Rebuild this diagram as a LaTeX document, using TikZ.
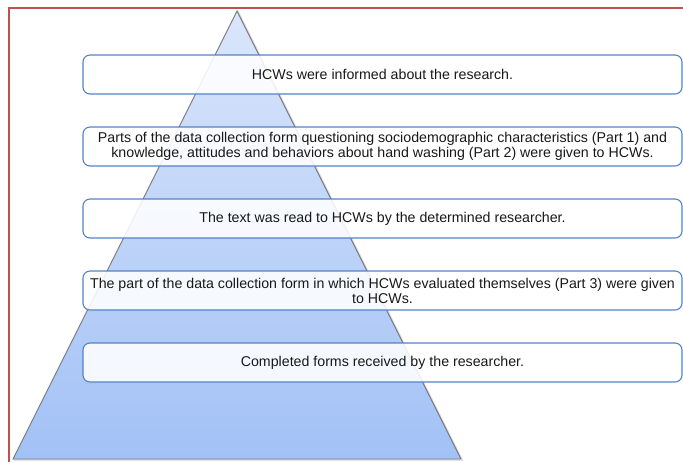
\documentclass[tikz,border=0pt]{standalone}
\usepackage{fontspec}
\setmainfont{Liberation Sans}
\definecolor{frameRed}{RGB}{192,80,77}
\definecolor{stepBlue}{RGB}{84,130,200}
\definecolor{pyrTop}{RGB}{218,230,251}
\definecolor{pyrBottom}{RGB}{162,193,246}
\definecolor{pyrEdge}{RGB}{120,120,125}
\begin{document}
\begin{tikzpicture}[x=1pt,y=-1pt,
  stepbox/.style={draw=stepBlue, line width=1.1pt, rounded corners=7pt,
    fill=white, fill opacity=0.88, text opacity=1,
    minimum width=599pt, minimum height=39pt, inner sep=0pt,
    align=center, font=\fontsize{14.2}{15}\selectfont, text=black!90},
  frameline/.style={draw=frameRed, line width=1.5pt}]
  \useasboundingbox (0,0) rectangle (683,461);
  % outer frame (only top and left edges fall inside the page)
  \draw[frameline] (9,470) -- (9,8) -- (690,8);
  % pyramid
  \coordinate (apex) at (237,11);
  \coordinate (bl) at (13,459);
  \coordinate (br) at (461,459);
  \draw[pyrEdge!60, line width=2pt, opacity=0.35] ([shift={(1.2,1.2)}]apex) -- ([shift={(1.2,1.2)}]br) -- ([shift={(1.2,1.2)}]bl) -- cycle;
  \shade[top color=pyrTop, bottom color=pyrBottom] (apex) -- (br) -- (bl) -- cycle;
  \draw[pyrEdge, line width=0.9pt, line join=miter] (apex) -- (br) -- (bl) -- cycle;
  % steps
  \node[stepbox] (b1) at (382.5,74.5) {HCWs were informed about the research.};
  \node[stepbox] (b2) at (382.5,146.5) {Parts of the data collection form questioning sociodemographic characteristics (Part 1) and\\knowledge, attitudes and behaviors about hand washing (Part 2) were given to HCWs.};
  \node[stepbox] (b3) at (382.5,218.5) {The text was read to HCWs by the determined researcher.};
  \node[stepbox] (b4) at (382.5,290.5) {The part of the data collection form in which HCWs evaluated themselves (Part 3) were given\\to HCWs.};
  \node[stepbox] (b5) at (382.5,362.5) {Completed forms received by the researcher.};
\end{tikzpicture}
\end{document}
